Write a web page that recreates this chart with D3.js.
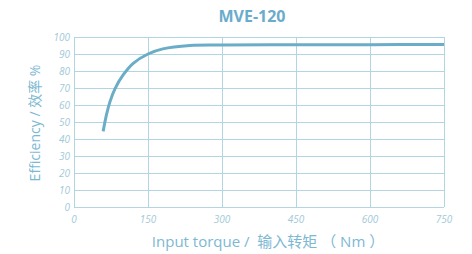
<!DOCTYPE html>
<html lang="en">
<head>
    <meta charset="UTF-8">
    <title>MVE-120</title>
    <script src="https://d3js.org/d3.v7.min.js"></script>
    <style>
        body { margin: 0; background: #fff; }
        .tick-label { font-family: "Open Sans", sans-serif; font-style: italic; font-size: 10px; fill: #a3c9d9; }
        .grid line { stroke: #b2d6e1; stroke-width: 1; }
    </style>
</head>
<body>
    <div id="chart"></div>

    <script>
        // efficiency curve
        const torque = [59, 62, 66, 73, 83, 100, 120, 150, 180, 235, 300, 450, 600, 750];
        const efficiency = [44.5, 49, 54.5, 62, 69.5, 77.8, 84.5, 90, 93, 95, 95.3, 95.5, 95.5, 95.6];
        const xTicks = [0, 150, 300, 450, 600, 750];
        const yTicks = [0, 10, 20, 30, 40, 50, 60, 70, 80, 90, 100];

        const width = 472, height = 254;
        const margin = { top: 37, right: 28, bottom: 47, left: 74 };
        const w = width - margin.left - margin.right;
        const h = height - margin.top - margin.bottom;

        const svg = d3.select("#chart")
            .append("svg")
            .attr("width", width)
            .attr("height", height);

        const g = svg.append("g")
            .attr("transform", `translate(${margin.left},${margin.top})`);

        const x = d3.scaleLinear().domain([0, 750]).range([0, w]);
        const y = d3.scaleLinear().domain([0, 100]).range([h, 0]);

        // grid
        const grid = g.append("g").attr("class", "grid");
        grid.selectAll(".h")
            .data(yTicks)
            .enter()
            .append("line")
            .attr("x1", 0).attr("x2", w)
            .attr("y1", d => y(d) + 0.5).attr("y2", d => y(d) + 0.5);
        grid.selectAll(".v")
            .data(xTicks)
            .enter()
            .append("line")
            .attr("y1", 0).attr("y2", h)
            .attr("x1", d => x(d) + 0.5).attr("x2", d => x(d) + 0.5);

        // tick labels
        g.selectAll(".ylab")
            .data(yTicks)
            .enter()
            .append("text")
            .attr("class", "tick-label")
            .attr("x", -4)
            .attr("y", d => y(d) + 4)
            .attr("text-anchor", "end")
            .text(d => d);

        g.selectAll(".xlab")
            .data(xTicks)
            .enter()
            .append("text")
            .attr("class", "tick-label")
            .attr("x", d => x(d))
            .attr("y", h + 16)
            .attr("text-anchor", "middle")
            .text(d => d);

        // curve
        const pts = torque.map((t, i) => [t, efficiency[i]]);
        const line = d3.line()
            .x(d => x(d[0]))
            .y(d => y(d[1]))
            .curve(d3.curveCatmullRom.alpha(0.5));

        g.append("path")
            .datum(pts)
            .attr("d", line)
            .attr("fill", "none")
            .attr("stroke", "#6badc7")
            .attr("stroke-width", 3);

        // titles
        svg.append("text")
            .attr("x", 252)
            .attr("y", 22)
            .attr("text-anchor", "middle")
            .attr("font-family", "Open Sans, sans-serif")
            .attr("font-weight", "bold")
            .attr("font-size", 16)
            .attr("fill", "#6aaccc")
            .text("MVE-120");

        svg.append("text")
            .attr("x", 268)
            .attr("y", 247)
            .attr("text-anchor", "middle")
            .attr("font-family", "Open Sans, Noto Sans CJK SC, sans-serif")
            .attr("font-size", 15)
            .attr("fill", "#7db8d2")
            .style("white-space", "pre")
            .text("Input torque /  输入转矩 （ Nm ）");

        svg.append("text")
            .attr("transform", "translate(40,123) rotate(-90)")
            .attr("text-anchor", "middle")
            .attr("font-family", "Open Sans, Noto Sans CJK SC, sans-serif")
            .attr("font-size", 14)
            .attr("fill", "#7db8d2")
            .text("Efficiency / 效率 %");
    </script>
</body>
</html>
